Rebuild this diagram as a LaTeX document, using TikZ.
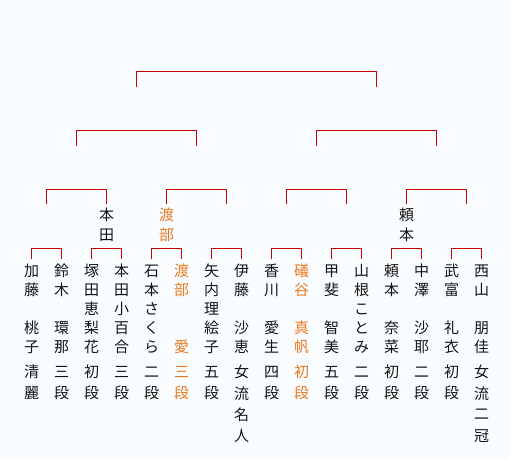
\documentclass[tikz,border=0pt]{standalone}
\usepackage{fontspec}
\newfontfamily\jp{Noto Sans CJK JP}
\definecolor{bracket}{RGB}{204,0,0}
\definecolor{winner}{RGB}{238,120,32}
\definecolor{bg}{RGB}{250,253,255}
\definecolor{ink}{RGB}{20,20,20}
\tikzset{
  ch/.style={font=\jp\fontsize{15}{15}\selectfont, inner sep=0pt, anchor=center},
  br/.style={draw=bracket, line width=1.1pt},
}
\newcommand\player[5]{%
  \coordinate (c#1) at ({31.7+30*(#1-1)},259);
  \foreach \ch [count=\k] in {#2}
    \node[ch,text=#5] (p#1f\k) at ({31.7+30*(#1-1)},{271+19*(\k-1)}) {\ch};
  \foreach \ch/\r in {#3}
    \node[ch,text=#5] (p#1g\r) at ({31.7+30*(#1-1)},{271+19*(\r-1)}) {\ch};
  \foreach \ch [count=\k] in {#4}
    \node[ch,text=#5] (p#1r\k) at ({31.7+30*(#1-1)},{372+21.3*(\k-1)}) {\ch};
}
\begin{document}
\begin{tikzpicture}[x=1pt,y=-1pt]
\fill[bg] (0,0) rectangle (510,459);
\useasboundingbox (0,0) rectangle (510,459);

\player{1}{加,藤}{桃/4,子/5}{清,麗}{ink}
\player{2}{鈴,木}{環/4,那/5}{三,段}{ink}
\player{3}{塚,田}{恵/3,梨/4,花/5}{初,段}{ink}
\player{4}{本,田}{小/3,百/4,合/5}{三,段}{ink}
\player{5}{石,本}{さ/3,く/4,ら/5}{二,段}{ink}
\player{6}{渡,部}{愛/5}{三,段}{winner}
\player{7}{矢,内}{理/3,絵/4,子/5}{五,段}{ink}
\player{8}{伊,藤}{沙/4,恵/5}{女,流,名,人}{ink}
\player{9}{香,川}{愛/4,生/5}{四,段}{ink}
\player{10}{礒,谷}{真/4,帆/5}{初,段}{winner}
\player{11}{甲,斐}{智/4,美/5}{五,段}{ink}
\player{12}{山,根}{こ/3,と/4,み/5}{二,段}{ink}
\player{13}{頼,本}{奈/4,菜/5}{初,段}{ink}
\player{14}{中,澤}{沙/4,耶/5}{二,段}{ink}
\player{15}{武,富}{礼/4,衣/5}{初,段}{ink}
\player{16}{西,山}{朋/4,佳/5}{女,流,二,冠}{ink}

% level 0 brackets
\foreach \a/\b in {1/2,3/4,5/6,7/8,9/10,11/12,13/14,15/16}
  \draw[br] (c\a) -- ++(0,-10.7) -| (c\b);

% level 1
\foreach \j in {1,...,8}
  \coordinate (m\j) at ({46.7+60*(\j-1)},204.3);
\foreach \a/\b in {1/2,3/4,5/6,7/8}
  \draw[br] (m\a) -- ++(0,-15) -| (m\b);

% level 2
\foreach \j in {1,...,4}
  \coordinate (n\j) at ({76.7+120*(\j-1)},145.7);
\foreach \a/\b in {1/2,3/4}
  \draw[br] (n\a) -- ++(0,-15.4) -| (n\b);

% level 3
\coordinate (o1) at (136.7,86.7);
\coordinate (o2) at (376.7,86.7);
\draw[br] (o1) -- ++(0,-15.4) -| (o2);

% winners
\node[ch,text=ink] (w1a) at (106.7,215) {本};
\node[ch,text=ink] (w1b) at (106.7,235) {田};
\node[ch,text=winner] (w2a) at (166.7,215) {渡};
\node[ch,text=winner] (w2b) at (166.7,235) {部};
\node[ch,text=ink] (w3a) at (406.7,215) {頼};
\node[ch,text=ink] (w3b) at (406.7,235) {本};
\end{tikzpicture}
\end{document}
